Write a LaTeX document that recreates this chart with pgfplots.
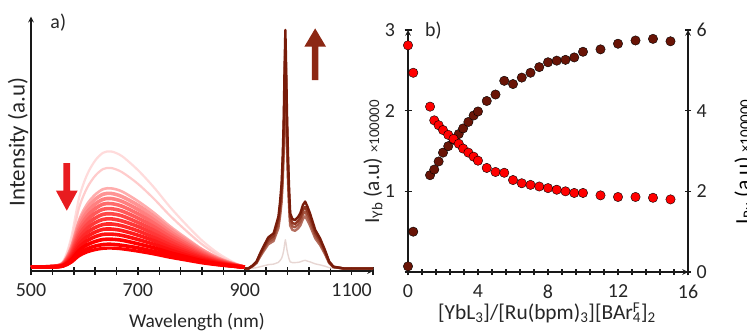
\documentclass[border=0pt]{standalone}
\usepackage{pgfplots}
\pgfplotsset{compat=1.18}
\usepackage{pgfplotstable}
\usepackage{fontspec}
\setmainfont{Carlito}
\definecolor{ybrown}{RGB}{105,20,6}
\definecolor{sbrown}{RGB}{120,28,10}
\definecolor{sbrown2}{RGB}{145,55,35}
\definecolor{sbrown3}{RGB}{165,85,65}
\definecolor{sbrown4}{RGB}{180,110,95}
\definecolor{arrowred}{RGB}{232,28,32}
\definecolor{arrowbrown}{RGB}{140,40,20}
\newcommand{\tickfont}{\fontsize{20}{22}\selectfont}
\newcommand{\labfont}{\fontsize{19}{21}\selectfont}

\pgfplotstableread{
wl r1 r2 r3 r4 r5 r6 r7 r8 r9 r10 r11 r12 r13 r14 r15
500 1.5 1.5 1.5 1.5 1.5 1.5 1.5 1.5 1.5 1.5 1.5 1.5 1.5 1.5 1.5
540 2.0 1.9 1.8 1.8 1.8 1.8 1.7 1.7 1.7 1.7 1.7 1.6 1.6 1.6 1.6
560 3.8 3.5 3.1 3.0 2.9 2.8 2.7 2.6 2.5 2.4 2.3 2.2 2.1 2.0 1.9
575 12.9 11.3 9.3 8.8 8.3 7.8 7.3 6.8 6.3 5.8 5.3 4.8 4.3 3.8 3.4
590 28.8 24.9 20.1 18.9 17.7 16.5 15.3 14.1 12.9 11.7 10.5 9.3 8.1 6.9 6.0
605 37.9 32.7 26.3 24.7 23.1 21.5 19.9 18.3 16.7 15.1 13.5 11.9 10.3 8.7 7.5
620 43.4 37.4 30.0 28.2 26.3 24.5 22.7 20.8 19.0 17.1 15.3 13.5 11.6 9.8 8.4
635 46.5 40.1 32.2 30.2 28.2 26.3 24.3 22.3 20.3 18.3 16.4 14.4 12.4 10.4 8.9
650 47.0 40.5 32.5 30.5 28.5 26.5 24.5 22.5 20.5 18.5 16.5 14.5 12.5 10.5 9.0
670 45.2 38.9 31.3 29.3 27.4 25.5 23.6 21.7 19.7 17.8 15.9 14.0 12.1 10.1 8.7
700 39.7 34.3 27.5 25.9 24.2 22.5 20.8 19.1 17.5 15.8 14.1 12.4 10.7 9.1 7.8
730 32.9 28.4 22.9 21.5 20.1 18.8 17.4 16.0 14.6 13.2 11.9 10.5 9.1 7.7 6.7
760 25.2 21.8 17.6 16.6 15.5 14.5 13.5 12.4 11.4 10.3 9.3 8.3 7.2 6.2 5.4
790 18.3 15.9 13.0 12.2 11.5 10.8 10.0 9.3 8.5 7.8 7.1 6.3 5.6 4.8 4.3
820 12.0 10.5 8.6 8.2 7.7 7.3 6.8 6.3 5.9 5.4 5.0 4.5 4.0 3.6 3.2
850 7.0 6.2 5.2 5.0 4.7 4.5 4.3 4.0 3.8 3.5 3.3 3.1 2.8 2.6 2.4
880 3.3 3.1 2.7 2.7 2.6 2.5 2.4 2.3 2.3 2.2 2.1 2.0 1.9 1.9 1.8
900 1.5 1.5 1.5 1.5 1.5 1.5 1.5 1.5 1.5 1.5 1.5 1.5 1.5 1.5 1.5
}\redtab

\pgfplotstableread{
wl b1 b2 b3 b4 b0
900 1.0 1.0 1.0 1.0 1.0
907 1.0 1.0 1.0 1.0 1.0
915 2.2 2.1 2.0 1.9 1.1
922 3.7 3.5 3.3 3.1 1.3
929 7.0 6.5 6.1 5.7 1.7
935 9.6 8.9 8.3 7.7 2.0
944 13.2 12.2 11.4 10.5 2.5
954 14.8 13.7 12.7 11.8 2.7
963 21.4 19.8 18.3 16.9 3.4
966 27.0 24.9 23.1 21.3 4.1
969 34.5 31.8 29.5 27.1 5.0
971 45.0 41.5 38.4 35.3 6.3
973 60.0 55.3 51.2 47.0 8.1
974.5 80.0 73.7 68.2 62.6 10.5
976 94.8 87.3 80.7 74.2 12.3
977.5 80.0 73.7 68.2 62.6 10.5
979 62.0 57.1 52.9 48.6 8.3
981 45.0 41.5 38.4 35.3 6.3
983 32.0 29.5 27.4 25.2 4.7
985 22.7 21.0 19.4 17.9 3.6
989 20.5 18.9 17.6 16.2 3.3
994 20.0 18.5 17.2 15.8 3.3
1000 21.3 19.7 18.3 16.8 3.4
1004 22.7 21.0 19.4 17.9 3.6
1009 26.0 24.0 22.3 20.5 4.0
1013 27.3 25.2 23.4 21.5 4.2
1017 25.5 23.5 21.8 20.1 3.9
1022 22.7 21.0 19.4 17.9 3.6
1032 16.1 14.9 13.8 12.8 2.8
1041 12.8 11.9 11.0 10.2 2.4
1050 8.3 7.7 7.2 6.7 1.9
1058 3.7 3.5 3.3 3.1 1.3
1066 1.7 1.6 1.6 1.5 1.1
1085 1.0 1.0 1.0 1.0 1.0
1140 1.0 1.0 1.0 1.0 1.0
}\browntab

\pgfplotstableread{
x yb
0 0.07
0.3 0.50
1.26 1.20
1.5 1.27
1.75 1.37
2.0 1.48
2.3 1.56
2.6 1.64
2.9 1.71
3.15 1.78
3.45 1.86
3.75 1.94
4.0 1.99
4.5 2.12
5.0 2.20
5.5 2.37
6.0 2.33
6.5 2.41
7.0 2.47
7.5 2.54
8.0 2.60
8.5 2.62
9.0 2.63
9.5 2.66
10.0 2.73
11 2.76
12 2.83
13 2.87
14 2.89
15 2.86
}\ybtab

\pgfplotstableread{
x ru
0 5.62
0.3 4.94
1.26 4.10
1.5 3.76
1.75 3.64
2.0 3.52
2.3 3.40
2.6 3.30
2.9 3.18
3.15 3.06
3.45 2.96
3.75 2.86
4.0 2.76
4.5 2.58
5.0 2.48
5.5 2.46
6.0 2.28
6.5 2.20
7.0 2.16
7.5 2.12
8.0 2.08
8.5 2.04
9.0 2.00
9.5 1.96
10.0 1.96
11 1.90
12 1.86
13 1.86
14 1.84
15 1.80
}\rutab

\begin{document}
\begin{tikzpicture}[x=1bp,y=1bp]
\pgfplotsset{
  every axis/.append style={
    scale only axis,
    /pgf/number format/assume math mode=true,
    /pgf/number format/1000 sep={},
    tick label style={font=\tickfont, text=black!85},
    label style={font=\labfont, text=black!85},
    axis line style={-, line width=1.5bp, black!90},
    tick style={line width=1.5bp, black!90},
    tick align=outside,
    xticklabel style={yshift=-6bp},
  },
}
% ---------------- panel a ----------------
\begin{axis}[
  at={(31bp,61bp)}, anchor=south west,
  width=342bp, height=254.3bp,
  xmin=500, xmax=1140, ymin=0, ymax=100,
  axis x line=bottom, axis y line=left,
  ytick=\empty,
  xtick={500,700,900,1100},
  minor xtick={540,580,620,660,740,780,820,860,940,980,1020,1060,1140},
  major tick length=7bp, minor tick length=7bp,
  xlabel={Wavelength (nm)}, ylabel={Intensity (a.u)},
  xlabel style={at={(axis description cs:0.485,-0.2)}, anchor=center, font=\fontsize{19.5}{21}\selectfont},
  ylabel style={at={(axis description cs:-0.038,0.507)}, anchor=center, font=\fontsize{23}{25}\selectfont},
  clip=false,
]
\addplot[smooth, line width=2.2bp, red!14] table[x=wl,y=r1] {\redtab};
\addplot[smooth, line width=2.2bp, red!20] table[x=wl,y=r2] {\redtab};
\addplot[smooth, line width=2.6bp, red!32] table[x=wl,y=r3] {\redtab};
\addplot[smooth, line width=3.6bp, red!42] table[x=wl,y=r4] {\redtab};
\addplot[smooth, line width=3.6bp, red!50] table[x=wl,y=r5] {\redtab};
\addplot[smooth, line width=3.6bp, red!58] table[x=wl,y=r6] {\redtab};
\addplot[smooth, line width=3.6bp, red!65] table[x=wl,y=r7] {\redtab};
\addplot[smooth, line width=3.6bp, red!72] table[x=wl,y=r8] {\redtab};
\addplot[smooth, line width=3.6bp, red!78] table[x=wl,y=r9] {\redtab};
\addplot[smooth, line width=3.6bp, red!84] table[x=wl,y=r10] {\redtab};
\addplot[smooth, line width=3.6bp, red!89] table[x=wl,y=r11] {\redtab};
\addplot[smooth, line width=3.6bp, red!94] table[x=wl,y=r12] {\redtab};
\addplot[smooth, line width=3.6bp, red] table[x=wl,y=r13] {\redtab};
\addplot[smooth, line width=3.6bp, red] table[x=wl,y=r14] {\redtab};
\addplot[smooth, line width=3.2bp, red] table[x=wl,y=r15] {\redtab};
\addplot[line width=1.4bp, sbrown!18, line join=round] table[x=wl,y=b0] {\browntab};
\addplot[line width=2.4bp, sbrown4, line join=round] table[x=wl,y=b4] {\browntab};
\addplot[line width=2.4bp, sbrown3, line join=round] table[x=wl,y=b3] {\browntab};
\addplot[line width=2.4bp, sbrown2, line join=round] table[x=wl,y=b2] {\browntab};
\addplot[line width=2.4bp, sbrown, line join=round] table[x=wl,y=b1] {\browntab};
\fill[arrowred] (axis cs:560.8,42.4) -- (axis cs:573.2,42.4) -- (axis cs:573.2,31.6) -- (axis cs:587.3,31.6) -- (axis cs:567,23.7) -- (axis cs:546.7,31.6) -- (axis cs:560.8,31.6) -- cycle;
\fill[arrowbrown] (axis cs:1025.6,75.1) -- (axis cs:1038,75.1) -- (axis cs:1038,88.2) -- (axis cs:1052.1,88.2) -- (axis cs:1031.8,95.4) -- (axis cs:1011.5,88.2) -- (axis cs:1025.6,88.2) -- cycle;
\node[font=\fontsize{20}{22}\selectfont, text=black!85] at (axis cs:551,97.5) {a)};
\end{axis}
% ---------------- panel b, left axis ----------------
\begin{axis}[
  at={(408bp,60bp)}, anchor=south west,
  width=280bp, height=242bp,
  xmin=0, xmax=16, ymin=0, ymax=3,
  axis x line=bottom, axis y line=left,
  xtick={0,4,8,12,16},
  minor xtick={0.8,1.6,2.4,3.2,4.8,5.6,6.4,7.2,8.8,9.6,10.4,11.2,12.8,13.6,14.4,15.2},
  ytick={0,1,2,3}, yticklabels={,1,2,3},
  yticklabel style={xshift=-6bp},
  major tick length=7bp, minor tick length=6bp,
  xlabel={[YbL\textsubscript{3}]/[Ru(bpm)\textsubscript{3}][BAr\rlap{\textsuperscript{F}}\textsubscript{4}]\textsubscript{2}},
  ylabel={I\textsubscript{Yb} (a.u) {\fontsize{15}{15}\selectfont ×100000}},
  xlabel style={at={(axis description cs:0.496,-0.169)}, anchor=center, font=\fontsize{21.5}{23}\selectfont},
  ylabel style={at={(axis description cs:-0.125,0.455)}, anchor=center, font=\fontsize{21.5}{23}\selectfont},
  clip=false,
]
\addplot[only marks, mark=*, mark size=4.7bp, mark options={draw=none, fill=ybrown}] table[x=x,y=yb] {\ybtab};
\node[font=\fontsize{20}{22}\selectfont, text=black!85] at (axis cs:1.45,2.99) {b)};
\end{axis}
% ---------------- panel b, right axis ----------------
\begin{axis}[
  at={(408bp,60bp)}, anchor=south west,
  width=280bp, height=242bp,
  xmin=0, xmax=16, ymin=0, ymax=6,
  axis x line=none, axis y line=right,
  ytick={0,2,4,6},
  yticklabel style={xshift=2bp},
  major tick length=6bp,
  ylabel={I\textsubscript{Ru} (a.u) {\fontsize{15}{15}\selectfont ×100000}},
  ylabel style={at={(axis description cs:1.2,0.455)}, anchor=center, font=\fontsize{21.5}{23}\selectfont},
  clip=false,
]
\addplot[only marks, mark=*, mark size=4.7bp, mark options={draw=none, fill=red}] table[x=x,y=ru] {\rutab};
\end{axis}
\pgfresetboundingbox
\useasboundingbox (0bp,0bp) rectangle (747bp,332bp);
\end{tikzpicture}
\end{document}
